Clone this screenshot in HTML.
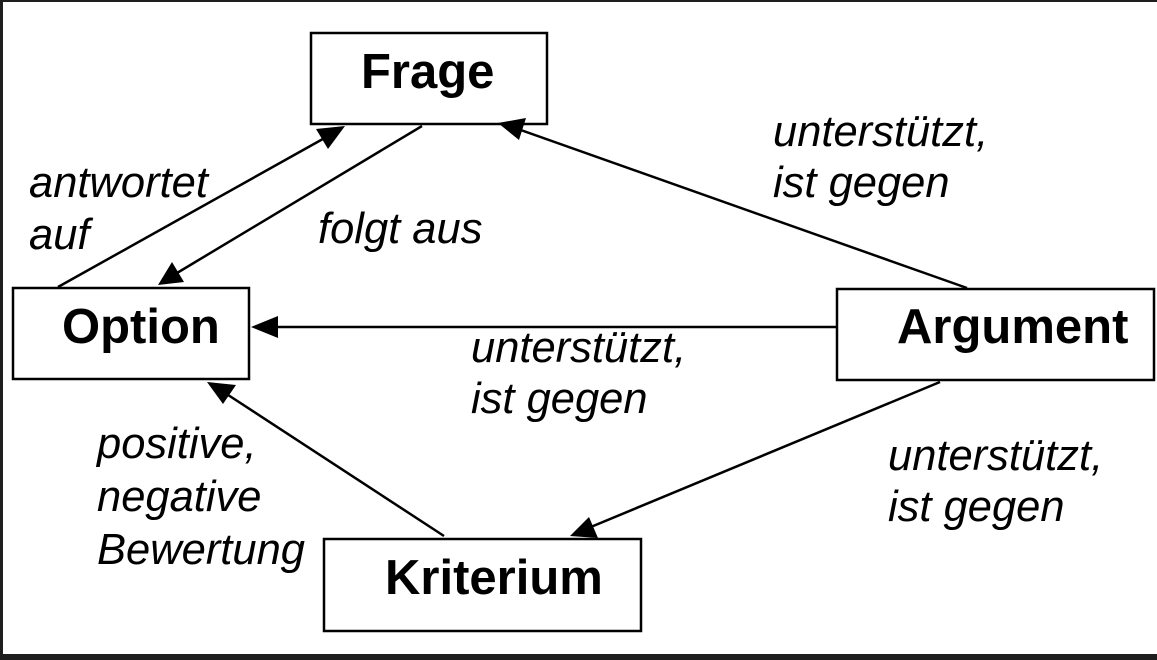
<!DOCTYPE html>
<html><head><meta charset="utf-8"><style>
html,body{margin:0;padding:0;background:#fff}
svg{display:block}
</style></head><body>
<svg width="1157" height="660" viewBox="0 0 1157 660" xmlns="http://www.w3.org/2000/svg">
<rect x="0" y="0" width="1157" height="660" fill="#fff"/>
<rect x="0" y="0" width="1157" height="2" fill="#1e1e1e"/>
<rect x="0" y="0" width="3" height="660" fill="#1e1e1e"/>
<rect x="0" y="654" width="1157" height="6" fill="#1e1e1e"/>
<g fill="#fff" stroke="#000" stroke-width="2.5">
<rect x="311" y="33" width="236" height="91"/>
<rect x="13" y="288" width="236" height="91"/>
<rect x="837" y="289" width="317" height="91"/>
<rect x="324" y="539" width="317" height="92"/>
</g>
<g stroke="#000" stroke-width="2.5">
<line x1="58" y1="287" x2="330" y2="135"/>
<line x1="422" y1="126" x2="172" y2="276"/>
<line x1="967" y1="288" x2="515" y2="128"/>
<line x1="836" y1="327" x2="270" y2="327"/>
<line x1="940" y1="382" x2="586" y2="529"/>
<line x1="444" y1="536" x2="222" y2="391"/>
</g>
<g fill="#000">
<polygon points="345,126 316,129 328,149"/>
<polygon points="158,285 172,262 184,282"/>
<polygon points="498,123 526,118 519,140"/>
<polygon points="251,327 278,316 278,338"/>
<polygon points="570,536 589,517 598,538"/>
<polygon points="207,382 236,385 223,404"/>
</g>
<g font-family="'Liberation Sans',Arial,sans-serif" font-weight="bold" font-size="49" fill="#000">
<text x="361" y="88">Frage</text>
<text x="62" y="343">Option</text>
<text x="897" y="343">Argument</text>
<text x="385" y="594">Kriterium</text>
</g>
<g font-family="'Liberation Sans',Arial,sans-serif" font-style="italic" font-size="43.5" fill="#000">
<text x="29" y="197">antwortet</text>
<text x="29" y="249">auf</text>
<text x="318" y="243">folgt aus</text>
<text x="773" y="146">unterstützt,</text>
<text x="773" y="197">ist gegen</text>
<text x="471" y="362">unterstützt,</text>
<text x="471" y="413">ist gegen</text>
<text x="888" y="470">unterstützt,</text>
<text x="888" y="521">ist gegen</text>
<text x="97" y="458">positive,</text>
<text x="97" y="511">negative</text>
<text x="97" y="564">Bewertung</text>
</g>
</svg>
</body></html>
